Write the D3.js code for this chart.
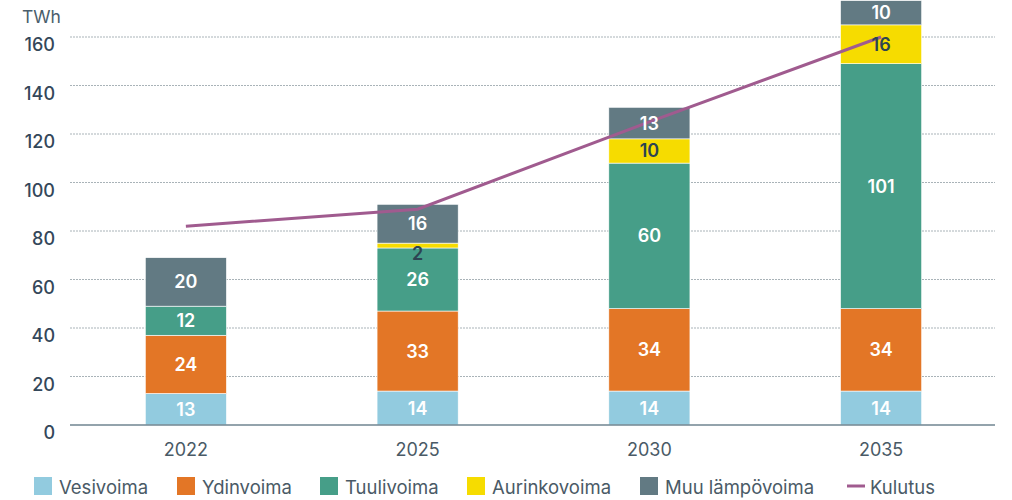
<!DOCTYPE html>
<html><head><meta charset="utf-8">
<script src="https://cdn.jsdelivr.net/npm/d3@7"></script>
<style>body{margin:0;background:#fff;}svg{display:block;font-family:Inter,"Noto Sans",sans-serif;}</style>
</head><body><svg id="c" width="1012" height="500"></svg>
<script>
const years = ["2022","2025","2030","2035"];
const seriesNames = ["Vesivoima","Ydinvoima","Tuulivoima","Aurinkovoima","Muu lämpövoima"];
const vesivoima = [13,14,14,14];
const ydinvoima = [24,33,34,34];
const tuulivoima = [12,26,60,101];
const aurinkovoima = [0,2,10,16];
const muuLampovoima = [20,16,13,10];
const kulutus = [82,89,125,160];
const yTicks = [0,20,40,60,80,100,120,140,160];
const colors = ["#92cbdf","#e37626","#469e88","#f6dc00","#627a83"];
const lineColor = "#a05b8f";

const svg = d3.select("#c");
const x = d3.scaleBand().domain(years).range([70,997]).paddingInner(0.65).paddingOuter(0.325);
const y = d3.scaleLinear().domain([0,160]).range([425,37]);

const table = years.map((yr,i)=>({year:yr, "Vesivoima":vesivoima[i],"Ydinvoima":ydinvoima[i],"Tuulivoima":tuulivoima[i],"Aurinkovoima":aurinkovoima[i],"Muu lämpövoima":muuLampovoima[i]}));
const stacked = d3.stack().keys(seriesNames)(table);

// grid
svg.append("g").selectAll("line").data(yTicks.filter(d=>d>0)).join("line")
  .attr("x1",70).attr("x2",995).attr("y1",d=>y(d)).attr("y2",d=>y(d))
  .attr("stroke","#a9b3b8").attr("stroke-width",1).attr("stroke-dasharray","2,1");

// y labels
svg.append("g").selectAll("text").data(yTicks).join("text")
  .attr("x",55).attr("y",d=>y(d)+14).attr("text-anchor","end")
  .attr("font-size",18).attr("font-weight",500).attr("fill","#34475a").text(d=>d);
svg.append("text").attr("x",22).attr("y",23).attr("font-size",17.5).attr("fill","#4a5e6c").text("TWh");

// bars
stacked.forEach((s,si)=>{
  svg.append("g").selectAll("rect").data(s.filter(d=>d[1]-d[0]>0)).join("rect")
    .attr("x",d=>x(d.data.year)).attr("width",x.bandwidth())
    .attr("y",d=>y(d[1])).attr("height",d=>y(d[0])-y(d[1]))
    .attr("fill",colors[si]).attr("stroke","#fff").attr("stroke-width",0.6);
});

// axis baseline
svg.append("line").attr("x1",70).attr("x2",995).attr("y1",y(0)).attr("y2",y(0)).attr("stroke","#6f8590").attr("stroke-width",1.5);

// x labels
svg.append("g").selectAll("text").data(years).join("text")
  .attr("x",d=>x(d)+x.bandwidth()/2).attr("y",456).attr("text-anchor","middle")
  .attr("font-size",18).attr("fill","#4a5a66").text(d=>d);

// line
const line = d3.line().x((d,i)=>x(years[i])+x.bandwidth()/2).y(d=>y(d));
svg.append("path").datum(kulutus).attr("d",line).attr("fill","none").attr("stroke",lineColor).attr("stroke-width",3);

// value labels
stacked.forEach((s,si)=>{
  svg.append("g").selectAll("text").data(s.filter(d=>d[1]-d[0]>0)).join("text")
    .attr("x",d=>x(d.data.year)+x.bandwidth()/2)
    .attr("y",d=>{ const v=d[1]-d[0]; return v<4 ? y(d[0]) + 12 : (y(d[0])+y(d[1]))/2+6.5; })
    .attr("text-anchor","middle").attr("font-size",18).attr("font-weight",600)
    .attr("fill", si===3 ? "#2d4452" : "#ffffff")
    .text(d=>d[1]-d[0]);
});

// legend
const legendItems = [
  {name:"Vesivoima",x:34},{name:"Ydinvoima",x:177},{name:"Tuulivoima",x:320},
  {name:"Aurinkovoima",x:467},{name:"Muu lämpövoima",x:640}];
legendItems.forEach((it,i)=>{
  svg.append("rect").attr("x",it.x).attr("y",477).attr("width",18).attr("height",18).attr("fill",colors[i]);
  svg.append("text").attr("x",it.x+25).attr("y",494).attr("font-size",18.5).attr("fill","#4a5a66").text(it.name);
});
svg.append("line").attr("x1",847).attr("x2",865).attr("y1",486).attr("y2",486).attr("stroke",lineColor).attr("stroke-width",3);
svg.append("text").attr("x",870).attr("y",494).attr("font-size",18.5).attr("fill","#4a5a66").text("Kulutus");
</script></body></html>
